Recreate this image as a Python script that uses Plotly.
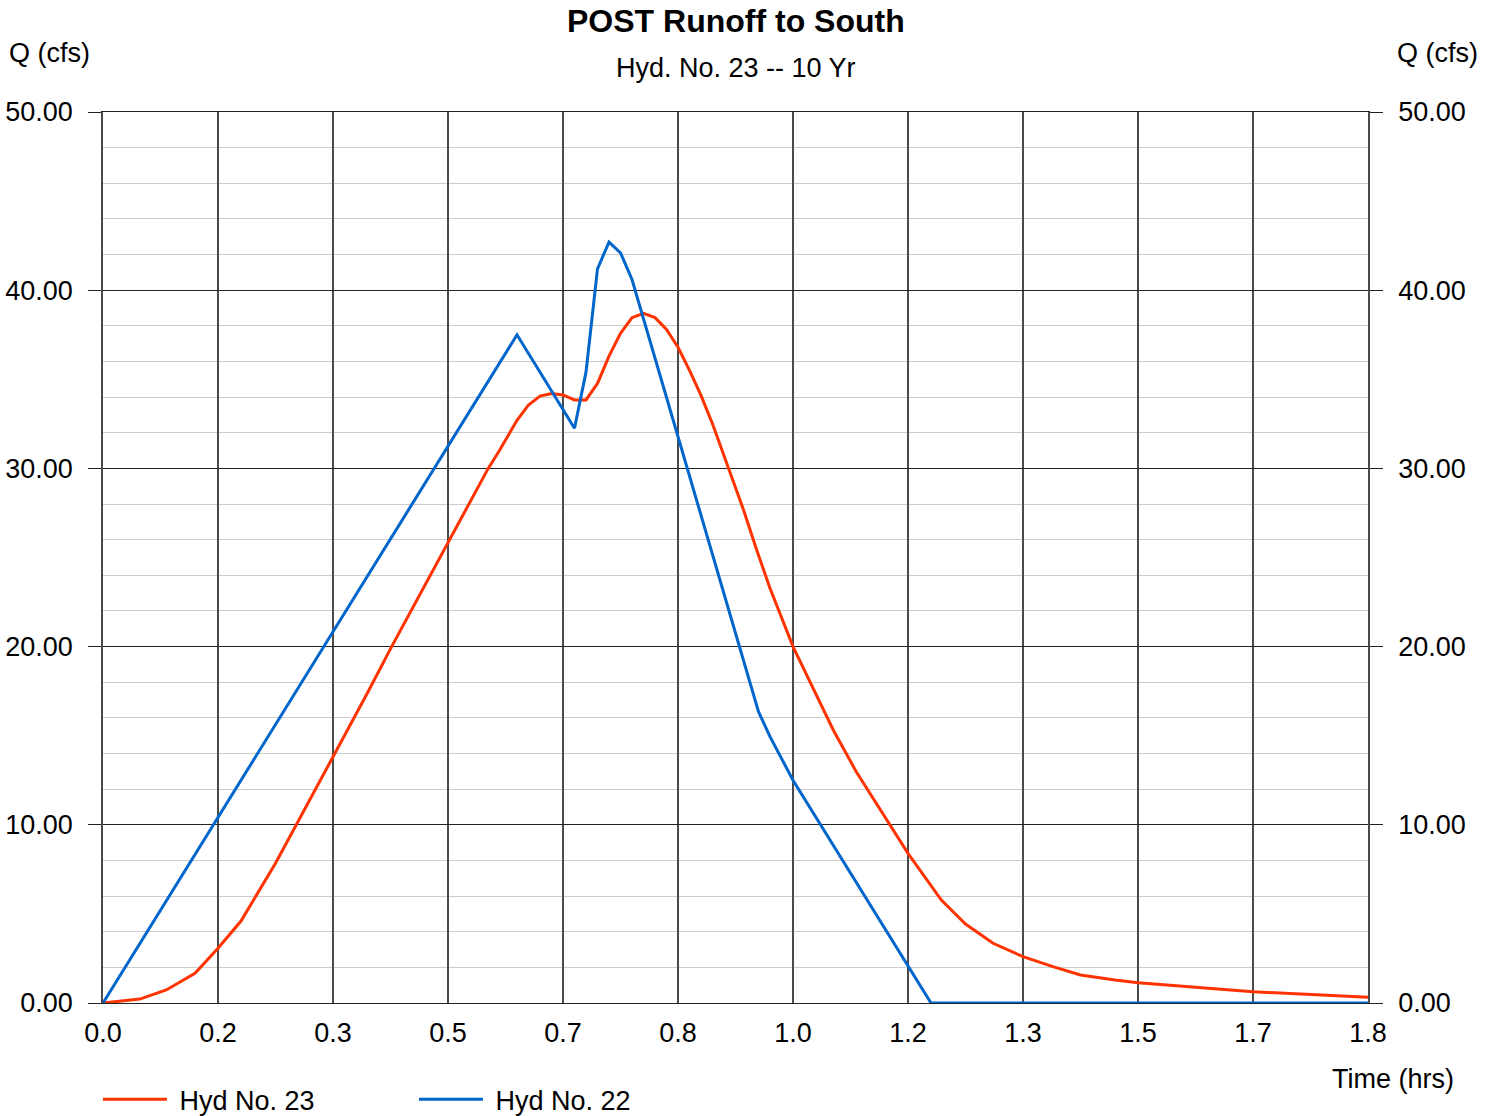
import plotly.graph_objects as go

# ---- data (time in minutes, flow in cfs) ----
hyd23_min = [0, 3.2, 5.5, 8, 10, 12, 15, 16.8, 20, 22.9, 25.1, 28.1, 30, 33.5, 34.5, 36, 37, 38, 39, 40,
             41, 42, 43, 44, 45, 46, 47, 48, 49, 50, 51, 52, 53, 54.4, 55.7, 56.8, 58, 60, 61.8, 63.5,
             65.5, 68.1, 70, 72.9, 75, 77.4, 80, 82.6, 85, 88, 90, 100, 110]
hyd23_q = [0, 0.22, 0.73, 1.67, 3.07, 4.6, 7.84, 9.99, 13.82, 17.28, 20.0, 23.55, 25.8, 30.0, 31.03, 32.7,
           33.56, 34.06, 34.2, 34.12, 33.84, 33.84, 34.77, 36.3, 37.58, 38.46, 38.7, 38.46, 37.8, 36.8,
           35.5, 34.1, 32.5, 30.0, 27.67, 25.5, 23.27, 20.0, 17.56, 15.32, 12.98, 10.36, 8.4, 5.78, 4.43,
           3.35, 2.6, 2.04, 1.57, 1.29, 1.14, 0.63, 0.32]

hyd22_min = [0, 36, 41, 42, 43, 44, 45, 46, 57, 58, 60, 72, 110]
hyd22_q = [0, 37.5, 32.25, 35.4, 41.2, 42.7, 42.1, 40.6, 16.35, 14.95, 12.5, 0, 0]

x_tick_labels = ['0.0', '0.2', '0.3', '0.5', '0.7', '0.8', '1.0', '1.2', '1.3', '1.5', '1.7', '1.8']
x_tick_step_min = 10
x_max_min = 110

title_text = "POST Runoff to South"
subtitle_text = "Hyd. No. 23 -- 10 Yr"
series_names = ["Hyd No. 23", "Hyd No. 22"]

# ---- build ----
hrs23 = [m / 60 for m in hyd23_min]
hrs22 = [m / 60 for m in hyd22_min]
tickvals = [i * x_tick_step_min / 60 for i in range(len(x_tick_labels))]

FONT = "Liberation Sans, Arial, sans-serif"
RED = "#FF3300"
BLUE = "#0066CC"
VGRID = "#4a4a4a"
HGRID = "#222222"
NBSP = "\u00a0"

fig = go.Figure()
fig.add_trace(go.Scatter(x=hrs23, y=hyd23_q, mode="lines", name=NBSP + series_names[0],
                         line=dict(color=RED, width=3)))
fig.add_trace(go.Scatter(x=hrs22, y=hyd22_q, mode="lines", name=NBSP + series_names[1],
                         line=dict(color=BLUE, width=3)))
# invisible trace to anchor right axis
fig.add_trace(go.Scatter(x=hrs22, y=hyd22_q, mode="lines", yaxis="y2", showlegend=False,
                         hoverinfo="skip", line=dict(color="rgba(0,0,0,0)", width=0)))

axis_font = dict(family=FONT, size=27, color="black")

fig.update_layout(
    width=1497, height=1116,
    margin=dict(l=103, r=129, t=112, b=113, autoexpand=False),
    paper_bgcolor="white", plot_bgcolor="white",
    font=dict(family=FONT, size=27, color="black"),
    showlegend=True,
    legend=dict(orientation="h", x=-0.004, xanchor="left", y=-0.136, yanchor="bottom",
                font=dict(family=FONT, size=27, color="black"),
                itemwidth=64, entrywidth=237, entrywidthmode="pixels",
                bgcolor="rgba(0,0,0,0)"),
    xaxis=dict(range=[0, x_max_min / 60], tickmode="array", tickvals=tickvals,
               ticktext=x_tick_labels, showgrid=True, gridcolor=VGRID, gridwidth=1.5,
               zeroline=False, showline=True, mirror=True, linecolor=HGRID, linewidth=1,
               ticks="", tickfont=axis_font, ticklabelstandoff=6, automargin=False),
    yaxis=dict(range=[0, 50], tickmode="linear", tick0=0, dtick=10, tickformat=".2f",
               showgrid=True, gridcolor=HGRID, gridwidth=1, zeroline=False,
               showline=True, linecolor=VGRID, linewidth=1.5,
               ticks="outside", ticklen=13, tickcolor=HGRID, tickwidth=1,
               tickfont=axis_font, ticklabelstandoff=10, automargin=False,
               minor=dict(dtick=2, showgrid=True, gridcolor="#cccccc", gridwidth=1, ticks="")),
    yaxis2=dict(range=[0, 50], overlaying="y", side="right", tickmode="linear", tick0=0, dtick=10,
                tickformat=".2f", showgrid=False, zeroline=False,
                showline=True, linecolor=VGRID, linewidth=1.5,
                ticks="outside", ticklen=13, tickcolor=HGRID, tickwidth=1,
                tickfont=axis_font, ticklabelstandoff=10, automargin=False),
    annotations=[
        dict(text="<b>" + title_text + "</b>", xref="paper", yref="paper", x=0.5, y=1.0,
             xanchor="center", yanchor="middle", yshift=91, showarrow=False,
             font=dict(family=FONT, size=32, color="black")),
        dict(text=subtitle_text, xref="paper", yref="paper", x=0.5, y=1.0,
             xanchor="center", yanchor="middle", yshift=44, showarrow=False,
             font=dict(family=FONT, size=27, color="black")),
        dict(text="Q (cfs)", xref="paper", yref="paper", x=0, y=1.0, xshift=-11,
             xanchor="right", yanchor="middle", yshift=59, showarrow=False,
             font=dict(family=FONT, size=27, color="black")),
        dict(text="Q (cfs)", xref="paper", yref="paper", x=1, y=1.0, xshift=27,
             xanchor="left", yanchor="middle", yshift=59, showarrow=False,
             font=dict(family=FONT, size=27, color="black")),
        dict(text="Time (hrs)", xref="paper", yref="paper", x=1, y=0, xshift=88,
             xanchor="right", yanchor="middle", yshift=-76, showarrow=False,
             font=dict(family=FONT, size=27, color="black")),
    ],
)

fig.write_html("out.html", config={"displayModeBar": False},
               post_script="document.body.style.margin='0';document.body.style.overflow='hidden';")
